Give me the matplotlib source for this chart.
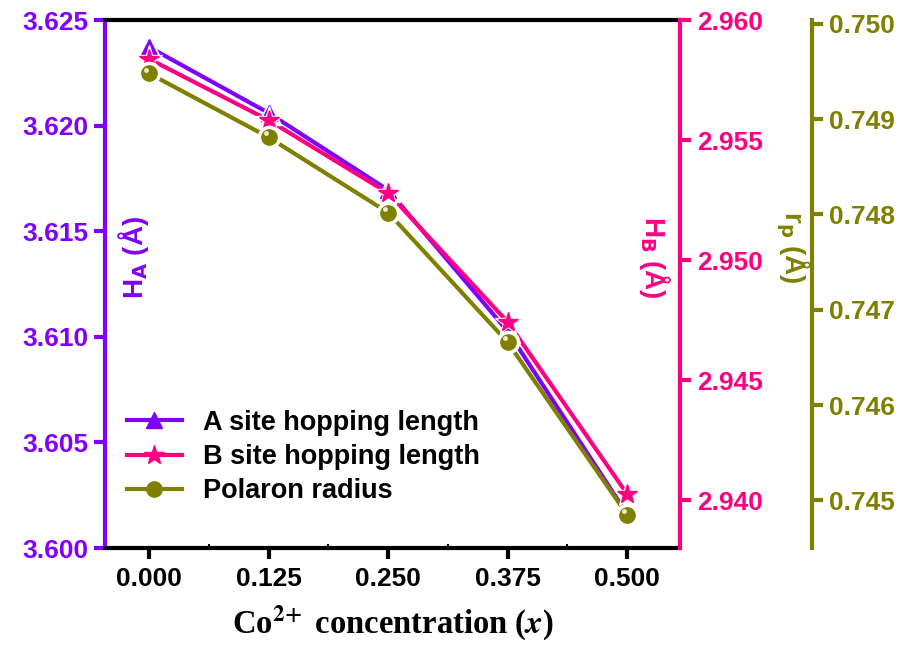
import numpy as np
import matplotlib.pyplot as plt
from matplotlib.ticker import FormatStrFormatter, MultipleLocator

plt.rcParams['font.family'] = ['Liberation Sans', 'DejaVu Sans']
plt.rcParams['font.weight'] = 'bold'

x = [0.000, 0.125, 0.250, 0.375, 0.500]
hop_a = [3.62372, 3.62060, 3.61695, 3.61027, 3.60161]
hop_b = [2.95838, 2.95583, 2.95279, 2.94742, 2.94025]
r_p = [0.74948, 0.74881, 0.74802, 0.74666, 0.74485]

purple = '#8000FF'
pink = '#FF0080'
olive = '#808000'

fig = plt.figure(figsize=(9.08, 6.5), dpi=100)
ax = fig.add_axes([105 / 908, 1 - 548 / 650, 575 / 908, 528 / 650])
ax2 = ax.twinx()
ax3 = ax.twinx()

ax.set_xlim(-0.046, 0.5553)
ax.set_ylim(3.600, 3.625)
ax2.set_ylim(2.938, 2.960)
ax3.set_ylim(0.74450, 0.75004)

# all marks live on ax (so z-order mixes), each with its own axis scale
series = [(hop_a, ax, purple, '^', 12), (hop_b, ax2, pink, '*', 15), (r_p, ax3, olive, 'o', 11)]
for y, a, c, m, ms in series:
    ax.plot(x, y, '-', color=c, lw=3, zorder=2, transform=a.transData, scalex=False, scaley=False)
handles = []
z = 3
for y, a, c, m, ms in series:
    ax.plot(x, y, ls='none', marker=m, ms=ms + 5, mfc='white', mec='white', zorder=z,
            transform=a.transData, scalex=False, scaley=False)
    h, = ax.plot(x, y, ls='none', marker=m, ms=ms, color=c, mec=c, zorder=z + 0.1,
                 transform=a.transData, scalex=False, scaley=False)
    handles.append(h)
    z += 1
ax.plot(np.array(x) - 0.003, np.array(r_p) + 0.00004, ls='none', marker='o', ms=3.5,
        color='#ecebd0', mec='none', zorder=5.2, transform=ax3.transData,
        scalex=False, scaley=False)
ax.set_xlim(-0.046, 0.5553)
ax.set_ylim(3.600, 3.625)

ax.xaxis.set_major_locator(MultipleLocator(0.125))
ax.xaxis.set_minor_locator(MultipleLocator(0.0625))
ax.xaxis.set_major_formatter(FormatStrFormatter('%.3f'))
ax.yaxis.set_major_locator(MultipleLocator(0.005))
ax.yaxis.set_major_formatter(FormatStrFormatter('%.3f'))
ax2.yaxis.set_major_locator(MultipleLocator(0.005))
ax2.yaxis.set_major_formatter(FormatStrFormatter('%.3f'))
ax3.yaxis.set_major_locator(MultipleLocator(0.001))
ax3.yaxis.set_major_formatter(FormatStrFormatter('%.3f'))

lw = 3
for s in ax.spines.values():
    s.set_linewidth(lw)
ax.spines['left'].set_color(purple)
ax.spines['right'].set_visible(False)
ax2.spines['right'].set_color(pink)
ax2.spines['right'].set_linewidth(lw)
for s in ('left', 'top', 'bottom'):
    ax2.spines[s].set_visible(False)
    ax3.spines[s].set_visible(False)
ax3.spines['right'].set_position(('axes', 1 + 132 / 575))
ax3.spines['right'].set_color(olive)
ax3.spines['right'].set_linewidth(lw)

ax.tick_params(axis='x', which='major', direction='out', length=8, width=lw,
               labelsize=19, pad=6, top=False)
ax.tick_params(axis='x', which='minor', direction='in', length=3, width=1.5)
ax.tick_params(axis='y', which='major', direction='out', length=8, width=lw,
               colors=purple, labelsize=19, pad=4)
ax2.tick_params(axis='y', direction='out', length=8, width=lw, colors=pink,
                labelsize=19, pad=4)
ax3.tick_params(axis='y', direction='out', length=8, width=lw, colors=olive,
                labelsize=19, pad=4)
for lab in ax.get_xticklabels() + ax.get_yticklabels() + ax2.get_yticklabels() + ax3.get_yticklabels():
    lab.set_fontweight('bold')

ax.set_xlabel(r'Co$^{\mathbf{2\!+}}$ concentration ($\boldsymbol{x}$)', fontsize=23.5,
              fontweight='bold', family='Liberation Serif', labelpad=9)
ax.xaxis.label.set_math_fontfamily('stix')

ax.text(0.05, 0.55, 'H$_\\mathbf{A}$ (Å)', transform=ax.transAxes, rotation=90,
        color=purple, fontsize=20, fontweight='bold', ha='center', va='center')
ax2.text(0.955, 0.55, 'H$_\\mathbf{B}$ (Å)', transform=ax2.transAxes, rotation=270,
         color=pink, fontsize=20, fontweight='bold', ha='center', va='center')
ax3.text(1.197, 0.57, 'r$_\\mathbf{p}$ (Å)', transform=ax3.transAxes, rotation=270,
         color=olive, fontsize=20, fontweight='bold', ha='center', va='center')

leg = ax.legend(handles, ['A site hopping length', 'B site hopping length', 'Polaron radius'],
                loc='upper left', bbox_to_anchor=(0.02, 0.282), frameon=False,
                prop={'size': 19.5, 'weight': 'bold'}, handlelength=2.0,
                labelspacing=0.3, handletextpad=0.8, borderaxespad=0)
for h, c in zip(leg.legend_handles, [purple, pink, olive]):
    h.set_linestyle('-')
    h.set_linewidth(3)
    h.set_color(c)

fig.savefig('out.png', dpi=100)
